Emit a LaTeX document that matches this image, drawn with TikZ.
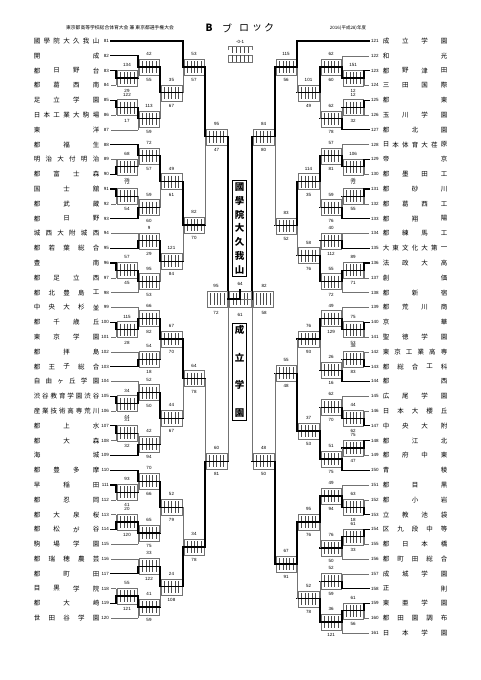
\documentclass[tikz,border=0pt]{standalone}
\usepackage{fontspec}
\setmainfont{Liberation Sans}
\newfontfamily\jp{Noto Sans CJK JP}

\newcommand{\yv}[1]{\csname yy#1\endcsname}

% team on the left: number, line style, end of line, name
\newcommand{\teamL}[4]{%
  \pgfmathsetmacro\tyy{41+(#1-81)*14.8}%
  \expandafter\xdef\csname yy#1\endcsname{\tyy}%
  \node[num,anchor=east] (n#1) at (109,\tyy) {#1};
  \draw[#2] (111,\tyy) -- (#3,\tyy);
  \foreach \c [count=\k] in {#4} {\xdef\nch{\k}}%
  \foreach \c [count=\k] in {#4} {\node[nm] (t#1c\k) at ({37+(\k-1)*59/(\nch-1)},\tyy) {\c};}%
}
% team on the right
\newcommand{\teamR}[4]{%
  \pgfmathsetmacro\tyy{41+(#1-121)*14.8}%
  \expandafter\xdef\csname yy#1\endcsname{\tyy}%
  \node[num,anchor=west] (n#1) at (371,\tyy) {#1};
  \draw[#2] (369,\tyy) -- (#3,\tyy);
  \foreach \c [count=\k] in {#4} {\xdef\nch{\k}}%
  \foreach \c [count=\k] in {#4} {\node[nm] (t#1c\k) at ({386+(\k-1)*58/(\nch-1)},\tyy) {\c};}%
}
% score box only: left x, right x, middle y
\newcommand{\scorebox}[3]{%
  \draw[boxline] (#1,#3-8) rectangle (#2,#3+8);
  \foreach \i in {1,...,5} {\draw[tick] ({#1+\i*(#2-#1)/6},#3-6) -- ++(0,12);}
}
% one match: [middle y], name, x in, x out, upper y, lower y, winner (1/2), label above, label below
\newcommand{\bout}[9][]{%
  \pgfmathsetmacro\bya{#5}%
  \pgfmathsetmacro\byb{#6}%
  \ifx\relax#1\relax\pgfmathsetmacro\bym{(\bya+\byb)/2}\else\pgfmathsetmacro\bym{#1}\fi
  \pgfmathsetmacro\bxa{min(#3,#4)+1}%
  \pgfmathsetmacro\bxb{max(#3,#4)-1}%
  \pgfmathsetmacro\bxc{(#3+#4)/2}%
  \expandafter\xdef\csname yy#2\endcsname{\bym}%
  \scorebox{\bxa}{\bxb}{\bym}
  \ifnum#7=1
    \draw[lose] (#3,\byb) -- (#3,\bym);
    \draw[win] (#3,\bya) -- (#3,\bym);
  \else
    \draw[lose] (#3,\bya) -- (#3,\bym);
    \draw[win] (#3,\byb) -- (#3,\bym);
  \fi
  \draw[win] (#3,\bym) -- (#4,\bym);
  \node[lab] (#2t) at (\bxc,\bym-13) {#8};
  \node[lab] (#2b) at (\bxc,\bym+13) {#9};
}

\begin{document}
\begin{tikzpicture}[x=1pt,y=-1pt,
  win/.style={line width=1.3pt,black,line cap=rect},
  lose/.style={line width=0.45pt,black!55},
  boxline/.style={line width=0.35pt,black!55},
  tick/.style={line width=0.3pt,black!70},
  num/.style={inner sep=0pt,font=\fontsize{4.5}{5}\selectfont},
  nm/.style={inner sep=0pt,font=\jp\fontsize{6.5}{7}\selectfont},
  lab/.style={inner sep=0pt,font=\fontsize{4.5}{5}\selectfont},
  champ/.style={draw,line width=0.6pt,inner sep=2.5pt,align=center,font=\jp\bfseries\fontsize{9.5}{13.8}\selectfont}]

\useasboundingbox[fill=white] (0,0) rectangle (481,680);

% header
\node[font=\jp\fontsize{4.8}{5}\selectfont] (hdl) at (120,28) {東京都高等学校総合体育大会\ 兼\ 東京都選手権大会};
\node[font=\jp\bfseries\fontsize{10}{12}\selectfont] (hdb) at (209,28) {B};
\node[font=\jp\fontsize{10}{12}\selectfont] (hd1) at (227,28) {ブ};
\node[font=\jp\fontsize{10}{12}\selectfont] (hd2) at (244,28) {ロ};
\node[font=\jp\fontsize{10}{12}\selectfont] (hd3) at (257,28) {ッ};
\node[font=\jp\fontsize{10}{12}\selectfont] (hd4) at (269,28) {ク};
\node[font=\jp\fontsize{4.5}{5}\selectfont] (hdr) at (348,28) {2016(平成28)年度};

% legend
\node[lab] (lg) at (240,42) {-0-1};
\draw[boxline] (228,50) -- (228,46) -- (252,46) -- (252,50);
\foreach \i in {1,...,5} {\draw[tick] (228+\i*4,47) -- ++(0,6);}
\draw[boxline] (228,55) rectangle (252,62);
\foreach \i in {1,...,5} {\draw[tick] (228+\i*4,55) -- ++(0,7);}

% left side
\teamL{81}{win}{183}{國,學,院,大,久,我,山}
\teamL{82}{win}{138}{開,成}
\teamL{83}{win}{116}{都,日,野,台}
\teamL{84}{lose}{116}{都,葛,西,南}
\teamL{85}{win}{116}{足,立,学,園}
\teamL{86}{lose}{116}{日,本,工,業,大,駒,場}
\teamL{87}{lose}{138}{東,洋}
\teamL{88}{win}{138}{都,福,生}
\teamL{89}{lose}{116}{明,治,大,付,明,治}
\teamL{90}{win}{116}{都,富,士,森}
\teamL{91}{win}{116}{国,士,舘}
\teamL{92}{lose}{116}{都,武,蔵}
\teamL{93}{win}{138}{都,日,野}
\teamL{94}{lose}{138}{城,西,大,附,城,西}
\teamL{95}{win}{138}{都,若,葉,総,合}
\teamL{96}{win}{116}{豊,南}
\teamL{97}{lose}{116}{都,足,立,西}
\teamL{98}{lose}{138}{都,北,豊,島,工}
\teamL{99}{lose}{138}{中,央,大,杉,並}
\teamL{100}{win}{116}{都,千,歳,丘}
\teamL{101}{lose}{116}{東,京,学,園}
\teamL{102}{lose}{138}{都,拝,島}
\teamL{103}{win}{138}{都,王,子,総,合}
\teamL{104}{lose}{138}{自,由,ヶ,丘,学,園}
\teamL{105}{win}{116}{渋,谷,教,育,学,園,渋,谷}
\teamL{106}{lose}{116}{産,業,技,術,高,専,荒,川}
\teamL{107}{win}{116}{都,上,水}
\teamL{108}{lose}{116}{都,大,森}
\teamL{109}{win}{138}{海,城}
\teamL{110}{win}{138}{都,豊,多,摩}
\teamL{111}{win}{116}{早,稲,田}
\teamL{112}{lose}{116}{都,忍,岡}
\teamL{113}{lose}{116}{都,大,泉,桜}
\teamL{114}{win}{116}{都,松,が,谷}
\teamL{115}{lose}{138}{駒,場,学,園}
\teamL{116}{lose}{138}{都,瑞,穂,農,芸}
\teamL{117}{win}{138}{都,町,田}
\teamL{118}{lose}{116}{目,黒,学,院}
\teamL{119}{win}{116}{都,大,崎}
\teamL{120}{lose}{138}{世,田,谷,学,園}

\bout{m8384}{116}{138}{\yv{83}}{\yv{84}}{1}{134}{29}
\bout{m82}{138}{160}{\yv{82}}{\yv{m8384}}{1}{42}{55}
\bout{m8586}{116}{138}{\yv{85}}{\yv{86}}{1}{122}{17}
\bout{m87}{138}{160}{\yv{m8586}}{\yv{87}}{1}{113}{59}
\bout{c1}{160}{183}{\yv{m82}}{\yv{m87}}{1}{35}{67}
\bout{d1}{183}{205}{\yv{81}}{\yv{c1}}{1}{53}{57}

\bout{m8990}{116}{138}{\yv{89}}{\yv{90}}{2}{68}{36}
\bout{m88}{138}{160}{\yv{88}}{\yv{m8990}}{1}{72}{57}
\bout{m9192}{116}{138}{\yv{91}}{\yv{92}}{1}{72}{54}
\bout{m93}{138}{160}{\yv{m9192}}{\yv{93}}{2}{59}{60}
\bout{c2}{160}{183}{\yv{m88}}{\yv{m93}}{1}{49}{61}
\bout{m9495}{138}{160}{\yv{94}}{\yv{95}}{2}{9}{29}
\bout{m9697}{116}{138}{\yv{96}}{\yv{97}}{1}{57}{45}
\bout{m98}{138}{160}{\yv{m9697}}{\yv{98}}{1}{95}{53}
\bout{c3}{160}{183}{\yv{m9495}}{\yv{m98}}{1}{121}{84}
\bout[225]{d2}{183}{205}{\yv{c2}}{\yv{c3}}{1}{82}{70}
\bout[136.7]{e1}{205}{228}{\yv{d1}}{\yv{d2}}{1}{95}{47}

\bout{m100101}{116}{138}{\yv{100}}{\yv{101}}{1}{115}{28}
\bout{m99}{138}{160}{\yv{99}}{\yv{m100101}}{2}{66}{82}
\bout{m102103}{138}{160}{\yv{102}}{\yv{103}}{2}{54}{18}
\bout{c4}{160}{183}{\yv{m99}}{\yv{m102103}}{1}{67}{70}
\bout{m105106}{116}{138}{\yv{105}}{\yv{106}}{1}{34}{44}
\bout{m104}{138}{160}{\yv{104}}{\yv{m105106}}{2}{52}{50}
\bout{m107108}{116}{138}{\yv{107}}{\yv{108}}{1}{31}{32}
\bout{m109}{138}{160}{\yv{m107108}}{\yv{109}}{2}{42}{94}
\bout{c5}{160}{183}{\yv{m104}}{\yv{m109}}{1}{44}{67}
\bout{d3}{183}{205}{\yv{c4}}{\yv{c5}}{1}{64}{78}

\bout{m111112}{116}{138}{\yv{111}}{\yv{112}}{1}{93}{41}
\bout{m110}{138}{160}{\yv{110}}{\yv{m111112}}{1}{70}{66}
\bout{m113114}{116}{138}{\yv{113}}{\yv{114}}{2}{20}{120}
\bout{m115}{138}{160}{\yv{m113114}}{\yv{115}}{1}{65}{75}
\bout{c6}{160}{183}{\yv{m110}}{\yv{m115}}{1}{52}{79}
\bout{m116117}{138}{160}{\yv{116}}{\yv{117}}{2}{33}{122}
\bout{m118119}{116}{138}{\yv{118}}{\yv{119}}{2}{55}{121}
\bout{m120}{138}{160}{\yv{m118119}}{\yv{120}}{1}{41}{59}
\bout{c7}{160}{183}{\yv{m116117}}{\yv{m120}}{1}{24}{108}
\bout{d4}{183}{205}{\yv{c6}}{\yv{c7}}{2}{34}{78}
\bout[461.3]{e2}{205}{228}{\yv{d3}}{\yv{d4}}{2}{60}{81}

% right side
\teamR{121}{win}{297}{成,立,学,園}
\teamR{122}{lose}{342}{和,光}
\teamR{123}{win}{364}{都,野,津,田}
\teamR{124}{lose}{364}{三,田,国,際}
\teamR{125}{win}{364}{都,東}
\teamR{126}{lose}{364}{玉,川,学,園}
\teamR{127}{win}{342}{都,北,園}
\teamR{128}{lose}{342}{日,本,体,育,大,荏,原}
\teamR{129}{win}{364}{帝,京}
\teamR{130}{lose}{364}{都,墨,田,工}
\teamR{131}{win}{364}{都,砂,川}
\teamR{132}{lose}{364}{都,葛,西,工}
\teamR{133}{win}{342}{都,翔,陽}
\teamR{134}{lose}{342}{都,練,馬,工}
\teamR{135}{win}{342}{大,東,文,化,大,第,一}
\teamR{136}{win}{364}{法,政,大,高}
\teamR{137}{lose}{364}{創,価}
\teamR{138}{lose}{342}{都,新,宿}
\teamR{139}{lose}{342}{都,荒,川,商}
\teamR{140}{win}{364}{京,華}
\teamR{141}{lose}{364}{聖,徳,学,園}
\teamR{142}{lose}{364}{東,京,工,業,高,専}
\teamR{143}{win}{364}{都,総,合,工,科}
\teamR{144}{win}{342}{都,西}
\teamR{145}{lose}{342}{広,尾,学,園}
\teamR{146}{lose}{364}{日,本,大,櫻,丘}
\teamR{147}{win}{364}{中,央,大,附}
\teamR{148}{win}{364}{都,江,北}
\teamR{149}{lose}{364}{都,府,中,東}
\teamR{150}{win}{342}{青,稜}
\teamR{151}{lose}{342}{都,目,黒}
\teamR{152}{lose}{364}{都,小,岩}
\teamR{153}{win}{364}{立,教,池,袋}
\teamR{154}{win}{364}{区,九,段,中,等}
\teamR{155}{lose}{364}{都,日,本,橋}
\teamR{156}{lose}{342}{都,町,田,総,合}
\teamR{157}{lose}{342}{成,城,学,園}
\teamR{158}{win}{342}{正,則}
\teamR{159}{win}{364}{東,亜,学,園}
\teamR{160}{lose}{364}{都,田,園,調,布}
\teamR{161}{lose}{342}{日,本,学,園}

\bout{r123124}{364}{342}{\yv{123}}{\yv{124}}{1}{151}{12}
\bout{r122}{342}{320}{\yv{122}}{\yv{r123124}}{2}{62}{60}
\bout{r125126}{364}{342}{\yv{125}}{\yv{126}}{1}{12}{32}
\bout{r127}{342}{320}{\yv{r125126}}{\yv{127}}{2}{62}{78}
\bout{rc1}{320}{297}{\yv{r122}}{\yv{r127}}{1}{101}{49}
\bout{rd1}{297}{275}{\yv{121}}{\yv{rc1}}{1}{115}{56}

\bout{r129130}{364}{342}{\yv{129}}{\yv{130}}{1}{106}{46}
\bout{r128}{342}{320}{\yv{128}}{\yv{r129130}}{2}{57}{81}
\bout{r131132}{364}{342}{\yv{131}}{\yv{132}}{1}{72}{55}
\bout{r133}{342}{320}{\yv{r131132}}{\yv{133}}{2}{59}{76}
\bout{rc2}{320}{297}{\yv{r128}}{\yv{r133}}{1}{114}{35}
\bout{r134135}{342}{320}{\yv{134}}{\yv{135}}{2}{40}{112}
\bout{r136137}{364}{342}{\yv{136}}{\yv{137}}{1}{89}{71}
\bout{r138}{342}{320}{\yv{r136137}}{\yv{138}}{1}{55}{72}
\bout[255.5]{rc3}{320}{297}{\yv{r134135}}{\yv{r138}}{2}{58}{76}
\bout[225.8]{rd2}{297}{275}{\yv{rc2}}{\yv{rc3}}{1}{83}{52}
\bout[136.7]{re1}{275}{252}{\yv{rd1}}{\yv{rd2}}{1}{84}{80}

\bout{r140141}{364}{342}{\yv{140}}{\yv{141}}{1}{75}{53}
\bout{r139}{342}{320}{\yv{139}}{\yv{r140141}}{2}{49}{129}
\bout{r142143}{364}{342}{\yv{142}}{\yv{143}}{2}{38}{83}
\bout{r144}{342}{320}{\yv{r142143}}{\yv{144}}{2}{26}{16}
\bout[339]{rc4}{320}{297}{\yv{r139}}{\yv{r144}}{1}{76}{93}
\bout{r146147}{364}{342}{\yv{146}}{\yv{147}}{2}{44}{62}
\bout{r145}{342}{320}{\yv{145}}{\yv{r146147}}{2}{62}{70}
\bout{r148149}{364}{342}{\yv{148}}{\yv{149}}{1}{75}{47}
\bout{r150}{342}{320}{\yv{r148149}}{\yv{150}}{2}{51}{75}
\bout[431]{rc5}{320}{297}{\yv{r145}}{\yv{r150}}{2}{37}{53}
\bout[373.3]{rd3}{297}{275}{\yv{rc4}}{\yv{rc5}}{2}{55}{48}

\bout{r152153}{364}{342}{\yv{152}}{\yv{153}}{2}{63}{18}
\bout{r151}{342}{320}{\yv{151}}{\yv{r152153}}{2}{49}{94}
\bout{r154155}{364}{342}{\yv{154}}{\yv{155}}{1}{61}{33}
\bout{r156}{342}{320}{\yv{r154155}}{\yv{156}}{1}{76}{50}
\bout{rc6}{320}{297}{\yv{r151}}{\yv{r156}}{1}{95}{76}
\bout{r157158}{342}{320}{\yv{157}}{\yv{158}}{2}{52}{59}
\bout{r159160}{364}{342}{\yv{159}}{\yv{160}}{1}{61}{56}
\bout{r161}{342}{320}{\yv{r159160}}{\yv{161}}{1}{36}{121}
\bout[598.7]{rc7}{320}{297}{\yv{r157158}}{\yv{r161}}{2}{52}{78}
\bout[564]{rd4}{297}{275}{\yv{rc6}}{\yv{rc7}}{1}{67}{91}
\bout[461.3]{re2}{275}{252}{\yv{rd3}}{\yv{rd4}}{2}{48}{50}

% semifinals and final
\coordinate (ls) at (228,299);
\coordinate (rs) at (252,299);
\coordinate (fn) at (240,299);
\draw[lose] (228,\yv{e2}) -- (ls);
\draw[win] (228,\yv{e1}) -- (ls);
\draw[lose] (252,\yv{re2}) -- (rs);
\draw[win] (252,\yv{re1}) -- (rs);
\scorebox{207}{227}{299}
\scorebox{253}{273}{299}
\scorebox{229}{251}{299}
\node[lab] (lst) at (216,286) {95};
\node[lab] (lsb) at (216,313) {72};
\node[lab] (rst) at (264,286) {82};
\node[lab] (rsb) at (264,313) {58};
\node[lab] (fnt) at (240,284) {64};
\node[lab] (fnb) at (240,315) {61};
\draw[lose] (rs) -- (fn);
\draw[win] (ls) -- (fn) -- (240,290);
\node[champ] (win) at (239.5,228.5) {國\\學\\院\\大\\久\\我\\山};
\node[champ,font=\jp\bfseries\fontsize{9.5}{27.5}\selectfont] (run) at (239.5,371.5) {成\\立\\学\\園};
\end{tikzpicture}
\end{document}
